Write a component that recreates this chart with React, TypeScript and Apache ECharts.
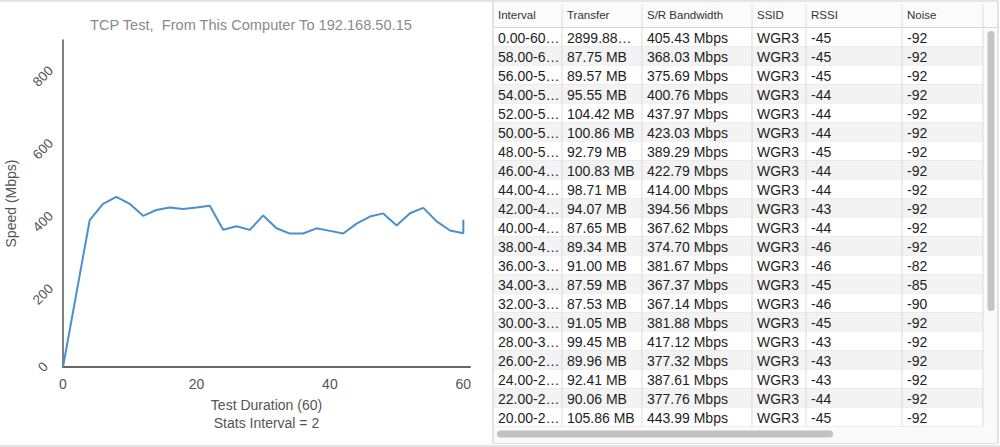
import React, { useEffect, useRef } from "react";
import * as echarts from "echarts";

// ---------- chart data ----------
const chartTitle = "TCP Test,  From This Computer To 192.168.50.15";
const xAxisName = "Test Duration (60)\nStats Interval = 2";
const yAxisName = "Speed (Mbps)";
const timeSec = [0, 4, 6, 8, 10, 12, 14, 16, 18, 20, 22, 24, 26, 28, 30, 32, 34, 36, 38, 40, 42, 44, 46, 48, 50, 52, 54, 56, 58, 60, 60];
const speedMbps = [0, 404, 449, 468, 449, 416, 432, 439, 435, 439, 443.99, 377.76, 387.61, 377.32, 417.12, 381.88, 367.14, 367.37, 381.67, 374.7, 367.62, 394.56, 414.0, 422.79, 389.29, 423.03, 437.97, 400.76, 375.69, 368.03, 405.43];
const yTicks = [0, 200, 400, 600, 800];
const xTicks = [0, 20, 40, 60];

// ---------- table data ----------
const headers = ["Interval", "Transfer", "S/R Bandwidth", "SSID", "RSSI", "Noise"];
const intervals = ["0.00-60…", "58.00-6…", "56.00-5…", "54.00-5…", "52.00-5…", "50.00-5…", "48.00-5…", "46.00-4…", "44.00-4…", "42.00-4…", "40.00-4…", "38.00-4…", "36.00-3…", "34.00-3…", "32.00-3…", "30.00-3…", "28.00-3…", "26.00-2…", "24.00-2…", "22.00-2…", "20.00-2…"];
const transfers = ["2899.88…", "87.75 MB", "89.57 MB", "95.55 MB", "104.42 MB", "100.86 MB", "92.79 MB", "100.83 MB", "98.71 MB", "94.07 MB", "87.65 MB", "89.34 MB", "91.00 MB", "87.59 MB", "87.53 MB", "91.05 MB", "99.45 MB", "89.96 MB", "92.41 MB", "90.06 MB", "105.86 MB"];
const bandwidths = ["405.43", "368.03", "375.69", "400.76", "437.97", "423.03", "389.29", "422.79", "414.00", "394.56", "367.62", "374.70", "381.67", "367.37", "367.14", "381.88", "417.12", "377.32", "387.61", "377.76", "443.99"];
const ssids = ["WGR3", "WGR3", "WGR3", "WGR3", "WGR3", "WGR3", "WGR3", "WGR3", "WGR3", "WGR3", "WGR3", "WGR3", "WGR3", "WGR3", "WGR3", "WGR3", "WGR3", "WGR3", "WGR3", "WGR3", "WGR3"];
const rssis = [-45, -45, -45, -44, -44, -44, -45, -44, -44, -43, -44, -46, -46, -45, -46, -45, -43, -43, -43, -44, -45];
const noises = [-92, -92, -92, -92, -92, -92, -92, -92, -92, -92, -92, -92, -82, -85, -90, -92, -92, -92, -92, -92, -92];

// ---------- layout ----------
const colEdges = [493, 562, 642, 752, 806, 902, 983];
const tableRight = 998;
const headerTop = 1;
const headerBottom = 27.5;
const rowH = 19;
const tableBottom = 443;
const FONT = "'Liberation Sans', Arial, Helvetica, sans-serif";

function buildTable(): any[] {
  const els: any[] = [];
  const rows = intervals.map((iv, i) => [
    iv,
    transfers[i],
    bandwidths[i] + " Mbps",
    ssids[i],
    String(rssis[i]),
    String(noises[i]),
  ]);
  els.push({ type: "rect", shape: { x: colEdges[0], y: headerTop, width: tableRight - colEdges[0], height: tableBottom - headerTop }, style: { fill: "#ffffff", stroke: "#c9c9c9", lineWidth: 1 } });
  els.push({ type: "rect", shape: { x: colEdges[0] + 1, y: headerTop + 1, width: tableRight - colEdges[0] - 2, height: headerBottom - headerTop - 1 }, style: { fill: "#fbfbfb" } });
  rows.forEach((_, i) => {
    const y = headerBottom + i * rowH;
    els.push({ type: "rect", shape: { x: colEdges[0] + 1, y, width: colEdges[6] - colEdges[0] - 1, height: rowH }, style: { fill: i % 2 === 1 ? "#f3f3f3" : "#ffffff" } });
    els.push({ type: "line", shape: { x1: colEdges[0] + 1, y1: y + rowH, x2: colEdges[6], y2: y + rowH }, style: { stroke: "#e2e2e2", lineWidth: 1 } });
  });
  els.push({ type: "line", shape: { x1: colEdges[0] + 1, y1: headerBottom, x2: tableRight - 1, y2: headerBottom }, style: { stroke: "#d6d6d6", lineWidth: 1 } });
  for (let c = 1; c < colEdges.length; c++) {
    els.push({ type: "line", shape: { x1: colEdges[c], y1: headerTop + 3, x2: colEdges[c], y2: headerBottom }, style: { stroke: "#dedede", lineWidth: 1 } });
    els.push({ type: "line", shape: { x1: colEdges[c], y1: headerBottom, x2: colEdges[c], y2: headerBottom + rows.length * rowH }, style: { stroke: "#d9d9d9", lineWidth: 1 } });
  }
  headers.forEach((h, c) => {
    els.push({ type: "text", x: colEdges[c] + 5, y: (headerTop + headerBottom) / 2 + 1, style: { text: h, fill: "#333333", font: `11.5px ${FONT}`, textVerticalAlign: "middle" } });
  });
  rows.forEach((r, i) => {
    const yc = headerBottom + i * rowH + rowH / 2 + 0.5;
    r.forEach((t, c) => {
      els.push({ type: "text", x: colEdges[c] + 5, y: yc, style: { text: t, fill: "#1e1e1e", font: `14px ${FONT}`, textVerticalAlign: "middle" } });
    });
  });
  const hsTop = headerBottom + rows.length * rowH;
  els.push({ type: "rect", shape: { x: colEdges[0] + 1, y: hsTop, width: tableRight - colEdges[0] - 2, height: tableBottom - hsTop }, style: { fill: "#fafafa" } });
  els.push({ type: "rect", shape: { x: 497, y: hsTop + 4, width: 336, height: 7, r: 3.5 }, style: { fill: "#c2c2c2" } });
  els.push({ type: "rect", shape: { x: colEdges[6] + 1, y: headerBottom + 1, width: tableRight - colEdges[6] - 2, height: hsTop - headerBottom - 1 }, style: { fill: "#fafafa" } });
  els.push({ type: "rect", shape: { x: 987.5, y: 31, width: 7, height: 280, r: 3.5 }, style: { fill: "#c4c4c4" } });
  return els;
}

export default function App() {
  const ref = useRef<HTMLDivElement>(null);
  useEffect(() => {
    if (!ref.current) return;
    const chart = echarts.init(ref.current, undefined, { renderer: "svg" });
    const option: any = {
      animation: false,
      backgroundColor: "#ffffff",
      textStyle: { fontFamily: FONT },
      title: {
        text: chartTitle,
        left: 246,
        top: 12,
        textAlign: "center",
        textStyle: { color: "#8a8a8a", fontSize: 14.6, fontWeight: "normal", fontFamily: FONT },
      },
      grid: { left: 63, top: 40, width: 407, height: 327, containLabel: false },
      xAxis: {
        type: "value",
        min: 0,
        max: 61,
        interval: 20,
        name: xAxisName,
        nameLocation: "middle",
        nameGap: 26,
        nameTextStyle: { color: "#555555", fontSize: 14, lineHeight: 18, verticalAlign: "top", fontFamily: FONT },
        axisLine: { show: true, lineStyle: { color: "#666666", width: 2 } },
        axisTick: { show: false },
        splitLine: { show: false },
        axisLabel: {
          color: "#555555",
          fontSize: 14,
          margin: 10,
          fontFamily: FONT,
          formatter: (v: number) => (xTicks.includes(v) ? String(v) : ""),
        },
      },
      yAxis: {
        type: "value",
        min: 0,
        max: 900,
        interval: 200,
        name: yAxisName,
        nameLocation: "middle",
        nameGap: 45,
        nameTextStyle: { color: "#555555", fontSize: 14, fontFamily: FONT },
        axisLine: { show: true, lineStyle: { color: "#555555", width: 1.5 } },
        axisTick: { show: false },
        splitLine: { show: false },
        axisLabel: {
          color: "#555555",
          fontSize: 13.5,
          rotate: 45,
          align: "center",
          verticalAlign: "middle",
          margin: 20,
          fontFamily: FONT,
          formatter: (v: number) => (yTicks.includes(v) ? String(v) : ""),
        },
      },
      series: [
        {
          type: "line",
          data: timeSec.map((t, i) => [t, speedMbps[i]]),
          showSymbol: false,
          symbol: "none",
          lineStyle: { color: "#4a8fd0", width: 2 },
          itemStyle: { color: "#4a8fd0" },
          silent: true,
        },
      ],
      graphic: [
        { type: "rect", shape: { x: 0, y: 0, width: 493, height: 2 }, style: { fill: "#e4e4e4" } },
        { type: "rect", shape: { x: 0, y: 445, width: 1000, height: 2 }, style: { fill: "#e4e4e4" } },
        ...buildTable(),
      ],
    };
    chart.setOption(option);
    return () => chart.dispose();
  }, []);
  return <div ref={ref} style={{ position: "absolute", left: 0, top: 0, width: 1000, height: 447 }} />;
}
